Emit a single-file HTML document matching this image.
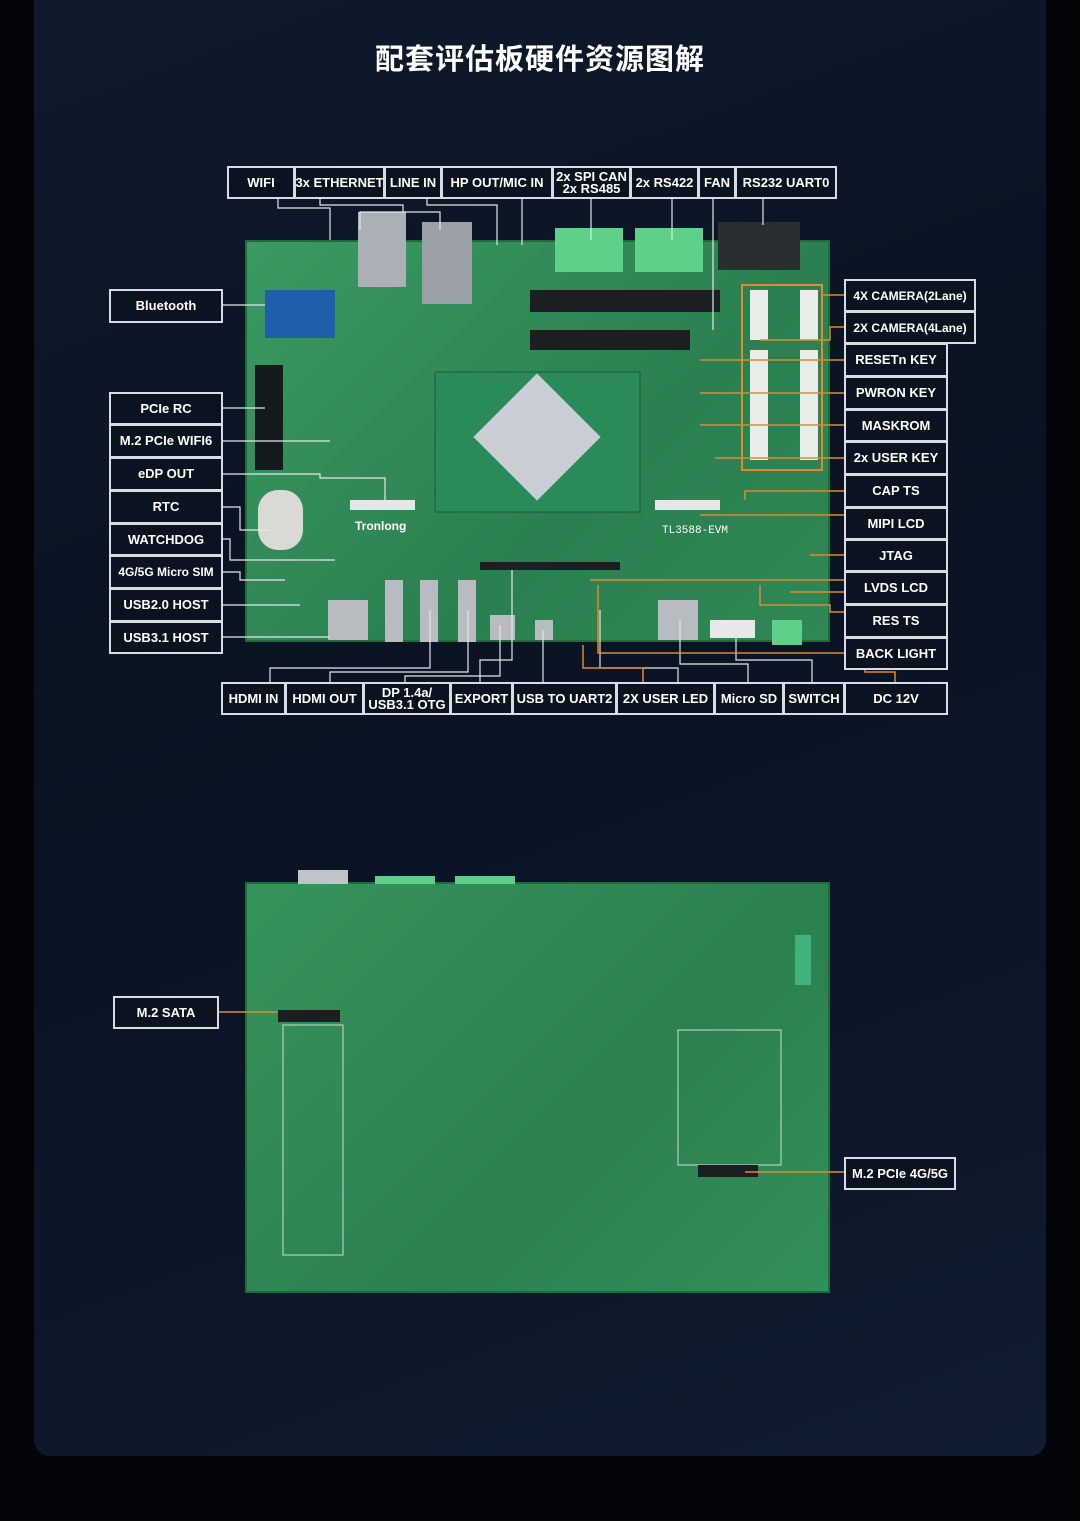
<!DOCTYPE html>
<html><head><meta charset="utf-8"><style>
*{margin:0;padding:0;box-sizing:border-box}
body{width:1080px;height:1521px;background:#030509;position:relative;overflow:hidden;font-family:"Liberation Sans",Arial,sans-serif}
#panel{position:absolute;left:34px;top:0;width:1012px;height:1456px;border-radius:0 0 16px 16px;background:linear-gradient(160deg,#0e1a2c 0%,#0a1322 40%,#0c1628 70%,#101c30 100%)}
h1{position:absolute;top:36px;left:0;width:1080px;text-align:center;color:#fff;font:bold 29px "Noto Sans CJK SC",sans-serif;letter-spacing:1px}
.b{position:absolute;border:2px solid #d8dde4;background:#0b1220;color:#fff;font-weight:bold;font-size:13px;display:flex;align-items:center;justify-content:center;text-align:center;line-height:12px;white-space:nowrap}
.board{position:absolute;background:#2f8a55;border:2px solid #1f6a3e}
svg{position:absolute;left:0;top:0}
</style></head><body>
<div id="panel"></div>
<h1>配套评估板硬件资源图解</h1>

<div class="board" style="left:245px;top:240px;width:585px;height:402px;background:linear-gradient(135deg,#3a9a62,#2a8050 60%,#2f8856)"></div>
<div class="board" style="left:245px;top:882px;width:585px;height:411px;background:linear-gradient(135deg,#36935c,#2b8150 60%,#33905a)"></div>

<svg width="1080" height="1521">
<!-- top board details -->
<rect x="265" y="290" width="70" height="48" fill="#1d5fa8"/>
<rect x="358" y="212" width="48" height="75" fill="#aab0b6"/>
<rect x="422" y="222" width="50" height="82" fill="#9aa0a6"/>
<rect x="555" y="228" width="68" height="44" fill="#5fd08a"/>
<rect x="635" y="228" width="68" height="44" fill="#5fd08a"/>
<rect x="718" y="222" width="82" height="48" fill="#2a2d32"/>
<rect x="435" y="372" width="205" height="140" fill="#2a8a58" stroke="#1c5c3a"/>
<rect x="492" y="392" width="90" height="90" fill="#c9ced4" transform="rotate(45 537 437)"/>
<rect x="255" y="365" width="28" height="105" fill="#151a1c"/>
<rect x="258" y="490" width="45" height="60" fill="#d9d9d6" rx="20"/>
<rect x="530" y="290" width="190" height="22" fill="#1c1f22"/>
<rect x="530" y="330" width="160" height="20" fill="#1c1f22"/>
<rect x="742" y="285" width="80" height="185" fill="none" stroke="#e08a2a" stroke-width="2"/>
<rect x="750" y="290" width="18" height="50" fill="#e9ece8"/><rect x="800" y="290" width="18" height="50" fill="#e9ece8"/>
<rect x="750" y="350" width="18" height="110" fill="#e9ece8"/><rect x="800" y="350" width="18" height="110" fill="#e9ece8"/>
<rect x="328" y="600" width="40" height="40" fill="#b8bcc0"/><rect x="385" y="580" width="18" height="62" fill="#b8bcc0"/>
<rect x="420" y="580" width="18" height="62" fill="#b8bcc0"/><rect x="458" y="580" width="18" height="62" fill="#b8bcc0"/>
<rect x="490" y="615" width="25" height="25" fill="#b8bcc0"/><rect x="535" y="620" width="18" height="20" fill="#b8bcc0"/>
<rect x="658" y="600" width="40" height="40" fill="#b8bcc0"/><rect x="710" y="620" width="45" height="18" fill="#e8e8e8"/>
<rect x="772" y="620" width="30" height="25" fill="#5fd08a"/>
<rect x="480" y="562" width="140" height="8" fill="#1c1f22"/>
<rect x="350" y="500" width="65" height="10" fill="#e6e6e6"/><rect x="655" y="500" width="65" height="10" fill="#e6e6e6"/>
<text x="355" y="530" fill="#fff" font-size="12" font-weight="bold" font-family="Liberation Sans">Tronlong</text>
<text x="662" y="533" fill="#fff" font-size="11" font-family="Liberation Mono">TL3588-EVM</text>
<!-- bottom board details -->
<rect x="278" y="1010" width="62" height="12" fill="#1c1f22"/>
<rect x="283" y="1025" width="60" height="230" fill="none" stroke="#c7e0cf" stroke-width="1"/>
<rect x="678" y="1030" width="103" height="135" fill="none" stroke="#c7e0cf" stroke-width="1"/>
<rect x="698" y="1165" width="60" height="12" fill="#1c1f22"/>
<rect x="795" y="935" width="16" height="50" fill="#3fb37a"/>
<rect x="298" y="870" width="50" height="14" fill="#c0c4c8"/>
<rect x="375" y="876" width="60" height="8" fill="#5fd08a"/><rect x="455" y="876" width="60" height="8" fill="#5fd08a"/>
<!-- lines white -->
<g stroke="#e6e6e6" stroke-width="1.2" fill="none">
<polyline points="278,198 278,208 330,208 330,240"/>
<polyline points="320,198 320,205 403,205 403,212 360,212 360,230"/>
<polyline points="403,212 440,212 440,230"/>
<polyline points="427,198 427,205 497,205 497,245"/>
<polyline points="522,198 522,245"/>
<line x1="591" y1="198" x2="591" y2="240"/>
<line x1="672" y1="198" x2="672" y2="240"/>
<line x1="713" y1="198" x2="713" y2="330"/>
<line x1="763" y1="198" x2="763" y2="225"/>
<polyline points="222,305 265,305"/>
<polyline points="222,408 265,408"/>
<polyline points="222,441 330,441"/>
<polyline points="222,474 320,474 320,478 385,478 385,500"/>
<polyline points="222,507 240,507 240,530 270,530"/>
<polyline points="222,539 230,539 230,560 335,560"/>
<polyline points="222,572 240,572 240,580 285,580"/>
<polyline points="222,605 300,605"/>
<polyline points="222,637 330,637"/>
<polyline points="270,682 270,668 430,668 430,610"/>
<polyline points="330,682 330,672 468,672 468,610"/>
<polyline points="405,682 405,676 500,676 500,625"/>
<polyline points="480,682 480,660 512,660 512,570"/>
<polyline points="543,682 543,630"/>
<polyline points="678,682 678,668 600,668 600,610"/>
<polyline points="748,682 748,664 680,664 680,620"/>
<polyline points="812,682 812,660 736,660 736,635"/>
</g>
<g stroke="#e08a2a" stroke-width="1.5" fill="none">
<polyline points="845,295 822,295"/>
<polyline points="845,327 830,327 830,340 760,340"/>
<polyline points="845,360 700,360"/>
<polyline points="845,393 700,393"/>
<polyline points="845,425 700,425"/>
<polyline points="845,458 715,458"/>
<polyline points="845,491 745,491 745,500"/>
<polyline points="845,515 700,515"/>
<polyline points="845,555 810,555"/>
<polyline points="845,580 590,580"/>
<polyline points="845,612 830,612 830,605 760,605 760,585"/>
<polyline points="845,653 598,653 598,585"/>
<polyline points="895,682 895,672 865,672 865,592 790,592"/>
<polyline points="643,682 643,668 583,668 583,645"/>
<polyline points="218,1012 278,1012"/>
<polyline points="845,1172 745,1172"/>
</g>
</svg>

<div class="b" style="left:227px;top:166px;width:68px;height:33px">WIFI</div>
<div class="b" style="left:294px;top:166px;width:91px;height:33px">3x ETHERNET</div>
<div class="b" style="left:384px;top:166px;width:58px;height:33px">LINE IN</div>
<div class="b" style="left:441px;top:166px;width:112px;height:33px">HP OUT/MIC IN</div>
<div class="b" style="left:552px;top:166px;width:79px;height:33px">2x SPI CAN<br>2x RS485</div>
<div class="b" style="left:630px;top:166px;width:69px;height:33px">2x RS422</div>
<div class="b" style="left:698px;top:166px;width:38px;height:33px">FAN</div>
<div class="b" style="left:735px;top:166px;width:102px;height:33px">RS232 UART0</div>

<div class="b" style="left:109px;top:289px;width:114px;height:34px">Bluetooth</div>
<div class="b" style="left:109px;top:392px;width:114px;height:33px">PCIe RC</div>
<div class="b" style="left:109px;top:424px;width:114px;height:34px">M.2 PCIe WIFI6</div>
<div class="b" style="left:109px;top:457px;width:114px;height:34px">eDP OUT</div>
<div class="b" style="left:109px;top:490px;width:114px;height:34px">RTC</div>
<div class="b" style="left:109px;top:523px;width:114px;height:33px">WATCHDOG</div>
<div class="b" style="left:109px;top:555px;width:114px;height:34px;font-size:12px">4G/5G Micro SIM</div>
<div class="b" style="left:109px;top:588px;width:114px;height:34px">USB2.0 HOST</div>
<div class="b" style="left:109px;top:621px;width:114px;height:33px">USB3.1 HOST</div>

<div class="b" style="left:844px;top:279px;width:132px;height:33px;font-size:12px">4X CAMERA(2Lane)</div>
<div class="b" style="left:844px;top:311px;width:132px;height:33px;font-size:12px">2X CAMERA(4Lane)</div>
<div class="b" style="left:844px;top:343px;width:104px;height:34px">RESETn KEY</div>
<div class="b" style="left:844px;top:376px;width:104px;height:34px">PWRON KEY</div>
<div class="b" style="left:844px;top:409px;width:104px;height:33px">MASKROM</div>
<div class="b" style="left:844px;top:441px;width:104px;height:34px">2x USER KEY</div>
<div class="b" style="left:844px;top:474px;width:104px;height:34px">CAP TS</div>
<div class="b" style="left:844px;top:507px;width:104px;height:33px">MIPI LCD</div>
<div class="b" style="left:844px;top:539px;width:104px;height:33px">JTAG</div>
<div class="b" style="left:844px;top:571px;width:104px;height:34px">LVDS LCD</div>
<div class="b" style="left:844px;top:604px;width:104px;height:34px">RES TS</div>
<div class="b" style="left:844px;top:637px;width:104px;height:33px">BACK LIGHT</div>

<div class="b" style="left:221px;top:682px;width:65px;height:33px">HDMI IN</div>
<div class="b" style="left:285px;top:682px;width:79px;height:33px">HDMI OUT</div>
<div class="b" style="left:363px;top:682px;width:88px;height:33px">DP 1.4a/<br>USB3.1 OTG</div>
<div class="b" style="left:450px;top:682px;width:63px;height:33px">EXPORT</div>
<div class="b" style="left:512px;top:682px;width:105px;height:33px">USB TO UART2</div>
<div class="b" style="left:616px;top:682px;width:99px;height:33px">2X USER LED</div>
<div class="b" style="left:714px;top:682px;width:70px;height:33px">Micro SD</div>
<div class="b" style="left:783px;top:682px;width:62px;height:33px">SWITCH</div>
<div class="b" style="left:844px;top:682px;width:104px;height:33px">DC 12V</div>

<div class="b" style="left:113px;top:996px;width:106px;height:33px">M.2 SATA</div>
<div class="b" style="left:844px;top:1157px;width:112px;height:33px">M.2 PCIe 4G/5G</div>
</body></html>
